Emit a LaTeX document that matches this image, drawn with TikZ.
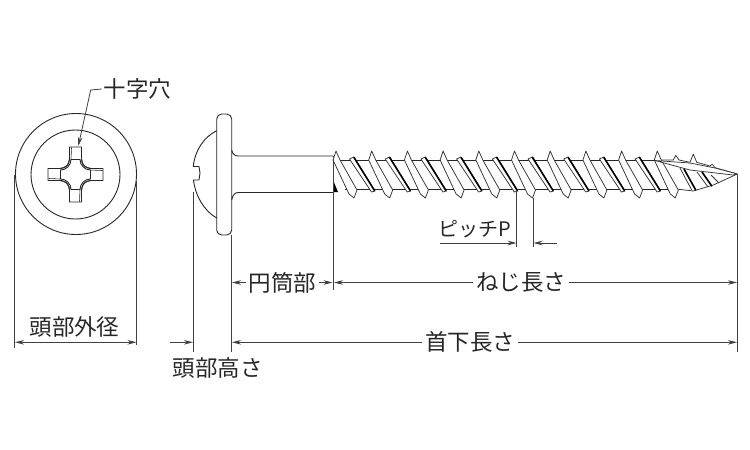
\documentclass[tikz,border=0pt]{standalone}
\usepackage{fontspec}
\setmainfont{Noto Sans CJK JP}
\usetikzlibrary{arrows.meta}

\begin{document}
\begin{tikzpicture}[x=1pt,y=-1pt,>={Stealth[length=9pt,width=4.5pt]},
    outl/.style={draw=black!85,line width=0.9pt,line join=round},
    dim/.style={draw=black!75,line width=0.8pt},
    lbl/.style={font=\fontsize{22.5}{22.5}\selectfont,text=black!85,inner sep=2pt},
    gaplbl/.style={lbl,fill=white,inner xsep=3pt},
    crest/.style={draw=black!80,line width=0.75pt,line join=round,fill=white},
    darkedge/.style={draw=black,line width=1.6pt,line cap=round}]

    \useasboundingbox (0,0) rectangle (750,450);

    % front view
    \node [outl,circle,minimum size=121pt,inner sep=0pt] (rim) at (76,174) {};
    \node [outl,circle,minimum size=89pt,inner sep=0pt] (face) at (75.5,174.5) {};
    \foreach \a in {0,90,180,270} {
      \begin{scope}[shift={(75.5,174.5)},rotate=\a]
        \draw [outl] (-15,-6.2) .. controls (-10,-6.3) and (-6.5,-9.5) .. (-6,-15) -- (-6,-27.5)
          -- (6,-27.5) -- (6,-15) .. controls (6.5,-9.5) and (10,-6.3) .. (15,-6.2);
        \draw [outl] (-4.5,-15) -- (4.5,-15) .. controls (4.5,-9.5) and (9,-4.5) .. (15,-4.5);
        \draw [outl,line width=0.6pt] (-4,-27) -- (-4.5,-15);
      \end{scope}
    }

    % side view, head and shank
    \draw [outl,fill=white,rounded corners=5pt] (216.7,114) rectangle (231.7,235);
    \draw [outl] (216.7,130.7) .. controls (204,137) and (195,150) .. (193.3,166.5)
      -- (199,166.5) -- (200,173) -- (199,180) -- (193.5,180)
      .. controls (195,195) and (204,211) .. (216.7,218);
    \draw [outl] (231.7,150) .. controls (232.5,154) and (234.5,156) .. (238.3,156) -- (333,156);
    \draw [outl] (231.7,200) .. controls (232.5,195.5) and (234.5,192.5) .. (238.3,192.5) -- (333,192.5);

    % tip, body first
    \draw [crest] (655,160) -- (673.3,160) -- (675.7,155.3) -- (679,160) -- (690,162.3) -- (693.3,154)
      -- (696.7,162.3) -- (710,166) -- (712.3,164.3) -- (715,167.7) -- (737.3,174)
      -- (713.3,185) -- (693.3,191) -- (676,189) -- (662,166) -- cycle;
    \draw [darkedge] (684,169) -- (695.7,190);
    \draw [crest] (680,168) -- (691.7,190);
    \draw [darkedge] (702,172) -- (711.7,186);
    \draw [crest] (697,172) -- (708,187);
    \draw [crest] (711,175) -- (719,183);

    % thread
    \draw [outl] (337,160) -- (658,160);
    \draw [outl] (345,189) -- (676,189);
    \fill [black] (333,180) -- (338,192) -- (333,192) -- cycle;
    \foreach \k in {0,...,8} {
      \begin{scope}[xshift=35.7*\k]
        \draw [crest] (349.5,159) -- (354,157) -- (375,191) -- (371.5,192) -- cycle;
        \draw [darkedge] (354,157.5) -- (374.5,190.5);
      \end{scope}
    }
    \foreach \k in {0,...,9} {
      \begin{scope}[xshift=35.7*\k]
        \draw [crest] (336,151) -- (333,160) -- (349,194) -- (354,198) -- (357,190) -- (340,160) -- cycle;
      \end{scope}
    }

    % flute of the tip
    \draw [crest] (655,160.5) -- (690,163) -- (715,168) -- (737.3,174) -- (733,175) -- (690,170) -- cycle;

    % extension lines
    \coordinate (e1a) at (14.5,175);    \coordinate (e1b) at (14.5,348);
    \coordinate (e2a) at (136.7,181);   \coordinate (e2b) at (136.7,345);
    \coordinate (e3a) at (193.5,192);   \coordinate (e3b) at (193.5,352);
    \coordinate (e4a) at (231.7,235);   \coordinate (e4b) at (231.7,352);
    \coordinate (e5a) at (333,156);     \coordinate (e5b) at (333,290);
    \coordinate (e6a) at (737.5,174);   \coordinate (e6b) at (737.5,352);
    \coordinate (e7a) at (516.7,190);   \coordinate (e7b) at (516.7,247);
    \coordinate (e8a) at (533.3,198);   \coordinate (e8b) at (533.3,247);
    \foreach \e in {1,...,8} {
      \draw [dim] (e\e a) -- (e\e b);
    }

    % dimensions
    \coordinate (od1) at (15,342.3);    \coordinate (od2) at (136.5,342.3);
    \coordinate (ha1) at (170,342.3);   \coordinate (ha2) at (193,342.3);
    \coordinate (ul1) at (232,342.3);   \coordinate (ul2) at (737,342.3);
    \coordinate (sl1) at (232,282.5);   \coordinate (sl2) at (332.5,282.5);
    \coordinate (tl1) at (334,282.5);   \coordinate (tl2) at (737,282.5);
    \coordinate (pt1) at (440,243);     \coordinate (pt2) at (516.5,243);
    \coordinate (pt3) at (557,243);     \coordinate (pt4) at (533.5,243);

    \node [lbl] (odl) at (74.5,326.5) {頭部外径};
    \node [lbl] (hal) at (217.5,368) {頭部高さ};
    \node [lbl,font=\fontsize{20}{20}\selectfont] (ptl) at (475,229) {ピッチP};
    \node [lbl] (cross) at (137.5,89) {十字穴};
    \coordinate (bend) at (90.7,90);
    \coordinate (cross tip) at (78.3,146);

    \draw [dim,<->] (od1) -- (od2);
    \draw [dim,->] (ha1) -- (ha2);
    \draw [dim,<->] (ul1) -- node [gaplbl,pos=0.472] (ull) {首下長さ} (ul2);
    \draw [dim,<->] (sl1) -- node [gaplbl] (sll) {円筒部} (sl2);
    \draw [dim,<->] (tl1) -- node [gaplbl,pos=0.465] (tll) {ねじ長さ} (tl2);
    \draw [dim,->] (pt1) -- (pt2);
    \draw [dim,->] (pt3) -- (pt4);
    \draw [dim,->] (cross.west) -- (bend) -- (cross tip);

\end{tikzpicture}
\end{document}
